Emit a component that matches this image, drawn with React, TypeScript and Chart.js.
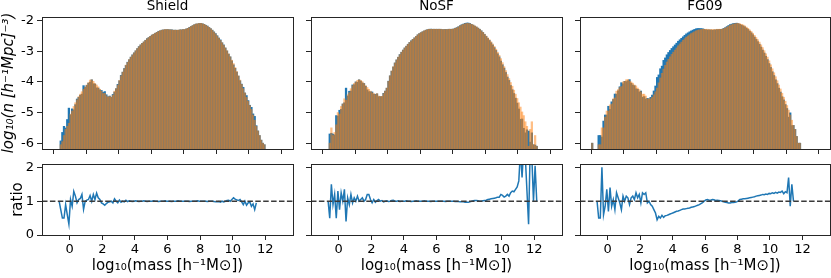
import React, { useEffect, useRef } from 'react';
import { Chart, registerables } from 'chart.js';

Chart.register(...registerables);

// ---------------- data ----------------
// histogram bins: centre of bin i is BIN_FIRST_CENTRE + i * BIN_WIDTH (i = 0..139, -0.95 ... 12.95)
const BIN_FIRST_CENTRE = -0.95;
const BIN_WIDTH = 0.1;

const PANEL_NAMES = ['Shield', 'NoSF', 'FG09'];

// log10(n) of the orange (reference) histogram; one row per unit of log10(mass), starting at -1
const SHIELD_LOGN = [
  null, null, null, -6.3, -6.05, -5.95, -5.75, -5.55, -5.45, -5.35,
  -5.05, -4.95, -4.8, -4.68, -4.58, -4.48, -4.4, -4.32, -4.24, -4.17,
  -4.1, -4.02, -3.94, -3.93, -3.98, -4.05, -4.1, -4.16, -4.24, -4.3,
  -4.38, -4.37, -4.45, -4.5, -4.47, -4.5, -4.43, -4.3, -4.22, -4.1,
  -3.95, -3.8, -3.68, -3.57, -3.45, -3.36, -3.27, -3.19, -3.12, -3.05,
  -2.98, -2.91, -2.85, -2.79, -2.74, -2.69, -2.64, -2.59, -2.55, -2.51,
  -2.47, -2.44, -2.41, -2.38, -2.35, -2.33, -2.31, -2.3, -2.29, -2.29,
  -2.29, -2.3, -2.3, -2.31, -2.31, -2.31, -2.31, -2.3, -2.3, -2.29,
  -2.29, -2.27, -2.25, -2.22, -2.19, -2.16, -2.13, -2.11, -2.1, -2.09,
  -2.09, -2.1, -2.12, -2.15, -2.18, -2.22, -2.26, -2.31, -2.37, -2.43,
  -2.5, -2.57, -2.64, -2.72, -2.8, -2.89, -2.98, -3.08, -3.18, -3.29,
  -3.4, -3.53, -3.66, -3.8, -3.94, -4.08, -4.22, -4.36, -4.5, -4.63,
  -4.77, -4.9, -5.08, -5.25, -5.45, -5.6, -5.75, -5.9, -6.0, -6.05,
  null, null, null, null, null, null, null, null, null, null,
];

const NOSF_LOGN = [
  null, null, null, -6.3, -6.0, -5.5, -5.75, -5.65, -5.4, -5.0,
  -5.05, -4.8, -4.72, -4.55, -4.6, -4.42, -4.35, -4.22, -4.12, -4.05,
  -4.0, -3.95, -3.93, -3.95, -3.99, -4.05, -4.12, -4.18, -4.24, -4.3,
  -4.35, -4.38, -4.42, -4.38, -4.46, -4.48, -4.47, -4.38, -4.3, -4.2,
  -3.98, -3.8, -3.64, -3.5, -3.38, -3.28, -3.19, -3.11, -3.03, -2.96,
  -2.89, -2.83, -2.77, -2.71, -2.66, -2.61, -2.56, -2.51, -2.46, -2.42,
  -2.39, -2.36, -2.33, -2.31, -2.29, -2.28, -2.28, -2.28, -2.28, -2.28,
  -2.28, -2.28, -2.28, -2.29, -2.29, -2.29, -2.29, -2.28, -2.28, -2.28,
  -2.27, -2.25, -2.23, -2.2, -2.17, -2.14, -2.12, -2.1, -2.09, -2.09,
  -2.1, -2.12, -2.14, -2.17, -2.2, -2.24, -2.28, -2.33, -2.38, -2.44,
  -2.5, -2.56, -2.62, -2.69, -2.76, -2.84, -2.93, -3.03, -3.13, -3.24,
  -3.37, -3.5, -3.63, -3.76, -3.89, -4.02, -4.14, -4.27, -4.4, -4.54,
  -4.68, -4.82, -4.98, -5.1, -5.3, -5.45, -6.1, -5.55, -5.3, -6.05,
  -5.75, -6.1, null, null, null, null, null, null, null, null,
];

const FG09_LOGN = [
  -6.0, null, null, -6.3, -6.05, -6.05, -5.5, -5.5, -5.15, -4.95,
  -4.95, -4.75, -4.72, -4.55, -4.52, -4.3, -4.25, -4.18, -4.15, -4.0,
  -3.98, -3.93, -3.92, -3.97, -4.0, -4.04, -4.1, -4.13, -4.2, -4.25,
  -4.32, -4.4, -4.4, -4.46, -4.56, -4.55, -4.55, -4.5, -4.42, -4.32,
  -4.2, -4.03, -3.87, -3.72, -3.58, -3.46, -3.35, -3.26, -3.18, -3.1,
  -3.03, -2.96, -2.89, -2.82, -2.76, -2.7, -2.64, -2.59, -2.54, -2.5,
  -2.46, -2.42, -2.39, -2.36, -2.33, -2.31, -2.3, -2.29, -2.28, -2.28,
  -2.28, -2.28, -2.29, -2.29, -2.29, -2.29, -2.29, -2.28, -2.28, -2.28,
  -2.28, -2.26, -2.24, -2.21, -2.18, -2.15, -2.13, -2.11, -2.1, -2.09,
  -2.09, -2.1, -2.12, -2.14, -2.17, -2.21, -2.25, -2.3, -2.35, -2.41,
  -2.48, -2.55, -2.62, -2.7, -2.79, -2.88, -2.98, -3.08, -3.19, -3.31,
  -3.44, -3.57, -3.7, -3.83, -3.96, -4.1, -4.23, -4.37, -4.5, -4.63,
  -4.77, -4.92, -5.08, -5.25, -5.42, -5.55, -5.78, -6.0, -6.0, null,
  null, null, null, null, null, null, null, null, null, null,
];

// ratio (orange / blue) per bin, same bins
const SHIELD_RATIO = [
  null, null, null, 1.0, 0.75, 0.5, 0.5, 0.9, 0.6, 0.32,
  1.05, 0.85, 1.29, 1.15, 0.95, 1.05, 1.08, 1.2, 0.76, 1.0,
  1.03, 1.05, 1.17, 1.0, 1.2, 1.05, 1.24, 1.1, 1.05, 0.95,
  0.92, 0.88, 0.93, 0.97, 0.98, 1.0, 0.95, 1.07, 1.0, 0.95,
  1.03, 0.97, 1.0, 0.98, 1.03, 0.99, 1.01, 1.0, 0.99, 1.0,
  1.01, 1.0, 0.99, 1.0, 1.0, 1.01, 1.0, 0.99, 1.0, 1.0,
  1.0, 1.01, 1.0, 1.0, 0.99, 1.0, 1.0, 1.0, 1.01, 1.0,
  1.0, 1.0, 0.99, 1.0, 1.0, 1.0, 1.01, 1.0, 1.0, 1.0,
  1.0, 1.0, 1.0, 0.99, 1.0, 1.0, 1.0, 1.0, 1.01, 1.0,
  1.0, 1.0, 1.0, 1.0, 0.99, 1.0, 1.0, 1.0, 0.99, 0.98,
  0.98, 0.99, 0.97, 1.0, 0.98, 1.0, 1.02, 1.03, 1.0, 1.05,
  1.1, 1.06, 1.04, 1.02, 1.05, 0.98, 0.9, 1.0, 0.88, 0.95,
  0.98, 0.85, 0.92, 0.75, 0.95, null, null, null, null, null,
  null, null, null, null, null, null, null, null, null, null,
];

const NOSF_RATIO = [
  null, null, null, 1.0, 0.5, 1.5, 0.9, 1.2, 0.5, 1.3,
  0.75, 1.25, 1.0, 1.35, 0.4, 1.1, 0.9, 1.2, 0.95, 1.1,
  1.0, 1.15, 1.0, 1.05, 1.1, 1.0, 1.05, 1.2, 1.2, 1.05,
  0.95, 1.05, 0.97, 1.02, 1.05, 1.0, 1.02, 0.98, 1.0, 1.01,
  0.99, 1.0, 1.02, 1.03, 1.0, 1.0, 1.01, 0.99, 1.0, 1.0,
  1.0, 1.01, 1.0, 1.0, 0.99, 1.0, 1.0, 1.01, 1.0, 1.0,
  1.0, 1.0, 1.01, 1.0, 1.0, 1.0, 0.99, 1.0, 1.0, 1.0,
  1.0, 1.0, 1.0, 1.0, 1.0, 0.99, 1.0, 1.0, 1.0, 1.0,
  1.0, 0.99, 0.99, 0.99, 0.98, 0.98, 0.98, 0.97, 0.97, 0.97,
  0.98, 1.0, 1.01, 1.02, 1.02, 1.01, 1.0, 1.0, 1.01, 1.02,
  1.03, 1.05, 1.06, 1.07, 1.08, 1.09, 1.1, 1.12, 1.12, 1.2,
  1.17, 1.12, 1.15, 1.2, 1.15, 1.25, 1.3, 1.28, 1.35, 1.42,
  1.6, 2.5, 1.7, 2.6, 2.3, 1.3, 0.32, 2.6, 2.3, 1.0,
  2.05, 1.0, null, null, null, null, null, null, null, null,
];

const FG09_RATIO = [
  null, null, null, 1.0, 0.5, 0.5, 2.0, 0.6, 0.85, 1.35,
  0.7, 1.4, 0.85, 1.05, 0.75, 1.25, 1.1, 0.95, 0.75, 1.15,
  1.0, 1.15, 1.1, 0.9, 1.1, 1.15, 1.05, 1.25, 1.1, 1.2,
  0.95, 1.25, 1.2, 1.25, 0.95, 1.0, 0.9, 0.85, 0.75, 0.65,
  0.45, 0.55, 0.5, 0.58, 0.52, 0.57, 0.58, 0.6, 0.62, 0.64,
  0.66, 0.68, 0.7, 0.71, 0.73, 0.75, 0.77, 0.77, 0.78, 0.79,
  0.8, 0.82, 0.83, 0.84, 0.86, 0.88, 0.9, 0.93, 0.96, 1.0,
  1.04, 1.05, 1.03, 1.03, 1.05, 1.04, 1.02, 1.03, 1.02, 1.01,
  1.0, 0.98, 0.97, 0.96, 0.95, 0.95, 0.96, 0.96, 0.97, 0.98,
  1.01, 1.05, 1.06, 1.07, 1.07, 1.08, 1.09, 1.1, 1.11, 1.12,
  1.13, 1.15, 1.16, 1.17, 1.18, 1.2, 1.19, 1.21, 1.2, 1.23,
  1.22, 1.25, 1.23, 1.26, 1.24, 1.27, 1.26, 1.3, 1.22, 1.28,
  1.25, 1.7, 0.85, 1.5, 1.0, null, null, null, null, null,
  null, null, null, null, null, null, null, null, null, null,
];

const LOGN = [SHIELD_LOGN, NOSF_LOGN, FG09_LOGN];
const RATIOS = [SHIELD_RATIO, NOSF_RATIO, FG09_RATIO];

const X_MIN = -1.7;
const X_MAX = 13.7;
const X_TICKS = [0, 2, 4, 6, 8, 10, 12];
const HIST_Y_MIN = -6.19;
const HIST_Y_MAX = -1.88;
const HIST_Y_TICKS = [-6, -5, -4, -3, -2];
const RATIO_Y_MIN = 0;
const RATIO_Y_MAX = 2.1;
const RATIO_Y_TICKS = [0, 1, 2];
const RATIO_REFERENCE = 1;
const BAR_FLOOR = -7;

const X_LABEL = 'log\u2081\u2080(mass [h\u207B\u00B9M\u2299])';
const HIST_Y_LABEL = 'log\u2081\u2080(n [h\u207B\u00B9Mpc]\u207B\u00B3)';
const RATIO_Y_LABEL = 'ratio';

// ---------------- layout / style ----------------
const W = 831;
const H = 278;
const PANEL_X: [number, number][] = [[42, 293], [311, 562], [580, 830]];
const TOP_ROW: [number, number] = [17, 149];
const BOTTOM_ROW: [number, number] = [164, 235];
const FONT = "'DejaVu Sans', sans-serif";
const BLUE = '#1f77b4';
const ORANGE = 'rgba(255,127,14,0.5)';
const AXIS = '#262626';
const TITLE_H = 17;
const TITLE_LINE = 13.5;

Chart.defaults.font.family = FONT;
Chart.defaults.color = '#000';

const framePlugin = {
  id: 'frame',
  afterDraw(chart: any) {
    const { ctx, chartArea: a } = chart;
    ctx.save();
    ctx.strokeStyle = AXIS;
    ctx.lineWidth = 1;
    ctx.strokeRect(a.left + 0.5, a.top + 0.5, a.right - a.left, a.bottom - a.top);
    ctx.restore();
  },
};

function xScale(bottomPx: number, labels: boolean) {
  return {
    type: 'linear',
    min: X_MIN,
    max: X_MAX,
    offset: false,
    afterBuildTicks: (s: any) => {
      s.ticks = X_TICKS.map((v) => ({ value: v }));
    },
    afterFit: (s: any) => {
      s.height = H - bottomPx;
    },
    grid: { display: true, drawOnChartArea: false, drawTicks: true, tickLength: 5, color: AXIS, lineWidth: 1 },
    border: { display: true, color: AXIS, width: 1 },
    ticks: { display: labels, color: '#000', font: { size: 13 }, padding: 2, maxRotation: 0, autoSkip: false },
    title: {
      display: labels,
      text: X_LABEL,
      color: '#000',
      font: { size: 15, lineHeight: 1.2 },
      padding: { top: 0, bottom: 3.3 },
    },
  };
}

function yScale(
  leftPx: number,
  min: number,
  max: number,
  ticks: number[],
  labels: boolean,
  title: string | null,
  titleOffset: number,
  italic: boolean
) {
  return {
    type: 'linear',
    min,
    max,
    afterBuildTicks: (s: any) => {
      s.ticks = ticks.map((v) => ({ value: v }));
    },
    afterFit: (s: any) => {
      s.width = leftPx;
    },
    grid: { display: true, drawOnChartArea: false, drawTicks: true, tickLength: 5, color: AXIS, lineWidth: 1 },
    border: { display: true, color: AXIS, width: 1 },
    ticks: { display: labels, color: '#000', font: { size: 13 }, padding: 3, autoSkip: false },
    title: {
      display: !!title,
      text: title || '',
      color: '#000',
      font: { size: 15, lineHeight: 1.2, style: italic ? 'italic' : 'normal' },
      padding: { top: titleOffset, bottom: 0 },
    },
  };
}

function histConfig(col: number): any {
  const logn = LOGN[col];
  const ratio = RATIOS[col];
  const orange: any[] = [];
  const blue: any[] = [];
  logn.forEach((v, i) => {
    if (v === null) return;
    const x = BIN_FIRST_CENTRE + i * BIN_WIDTH;
    const r = ratio[i];
    // ratio = n_orange / n_blue  ->  log n_blue = log n_orange - log ratio
    const b = r ? v - Math.log10(r) : v;
    orange.push({ x, y: [BAR_FLOOR, v] });
    blue.push({ x, y: [BAR_FLOOR, b] });
  });
  const [L, R] = PANEL_X[col];
  const [T, B] = TOP_ROW;
  const barCommon = {
    barPercentage: 1,
    categoryPercentage: 1,
    grouped: false,
    borderWidth: 0,
    clip: 0,
  };
  return {
    type: 'bar',
    data: {
      datasets: [
        { ...barCommon, label: 'orange', data: orange, backgroundColor: ORANGE },
        { ...barCommon, label: 'blue', data: blue, backgroundColor: BLUE },
      ],
    },
    options: {
      responsive: false,
      animation: false,
      events: [],
      layout: { padding: { left: 0, right: W - R, top: T - TITLE_H, bottom: 0 } },
      plugins: {
        legend: { display: false },
        tooltip: { enabled: false },
        title: {
          display: true,
          text: PANEL_NAMES[col],
          fullSize: false,
          color: '#000',
          font: { size: 13.5, weight: 'normal', lineHeight: 1.0 },
          padding: { top: 0, bottom: TITLE_H - TITLE_LINE },
        },
      },
      scales: {
        x: xScale(B, false),
        y: yScale(L, HIST_Y_MIN, HIST_Y_MAX, HIST_Y_TICKS, col === 0, col === 0 ? HIST_Y_LABEL : null, 0, true),
      },
    },
    plugins: [framePlugin],
  };
}

function ratioConfig(col: number): any {
  const ratio = RATIOS[col];
  const pts: any[] = [];
  ratio.forEach((r, i) => {
    if (r === null) return;
    pts.push({ x: BIN_FIRST_CENTRE + i * BIN_WIDTH, y: r });
  });
  const [L, R] = PANEL_X[col];
  const [T, B] = BOTTOM_ROW;
  return {
    type: 'line',
    data: {
      datasets: [
        {
          label: 'reference',
          data: [
            { x: X_MIN, y: RATIO_REFERENCE },
            { x: X_MAX, y: RATIO_REFERENCE },
          ],
          borderColor: '#3a3a3a',
          borderWidth: 1.4,
          borderDash: [5.5, 2.4],
          pointRadius: 0,
          fill: false,
        },
        {
          label: 'ratio',
          data: pts,
          borderColor: BLUE,
          borderWidth: 1.5,
          pointRadius: 0,
          fill: false,
          tension: 0,
        },
      ],
    },
    options: {
      responsive: false,
      animation: false,
      events: [],
      layout: { padding: { left: 0, right: W - R, top: T, bottom: 0 } },
      plugins: { legend: { display: false }, tooltip: { enabled: false }, title: { display: false } },
      scales: {
        x: xScale(B, true),
        y: yScale(L, RATIO_Y_MIN, RATIO_Y_MAX, RATIO_Y_TICKS, col === 0, col === 0 ? RATIO_Y_LABEL : null, 9, false),
      },
    },
    plugins: [framePlugin],
  };
}

export default function App() {
  const refs = useRef<(HTMLCanvasElement | null)[]>([]);
  useEffect(() => {
    const charts: Chart[] = [];
    for (let c = 0; c < 3; c++) {
      const top = refs.current[c];
      const bottom = refs.current[c + 3];
      if (top) charts.push(new Chart(top, histConfig(c)));
      if (bottom) charts.push(new Chart(bottom, ratioConfig(c)));
    }
    return () => charts.forEach((ch) => ch.destroy());
  }, []);
  return (
    <div style={{ position: 'absolute', left: 0, top: 0, width: W, height: H, background: '#fff', overflow: 'hidden' }}>
      {[0, 1, 2, 3, 4, 5].map((i) => (
        <canvas
          key={i}
          ref={(el) => {
            refs.current[i] = el;
          }}
          width={W}
          height={H}
          style={{ position: 'absolute', left: 0, top: 0, width: W, height: H }}
        />
      ))}
    </div>
  );
}
